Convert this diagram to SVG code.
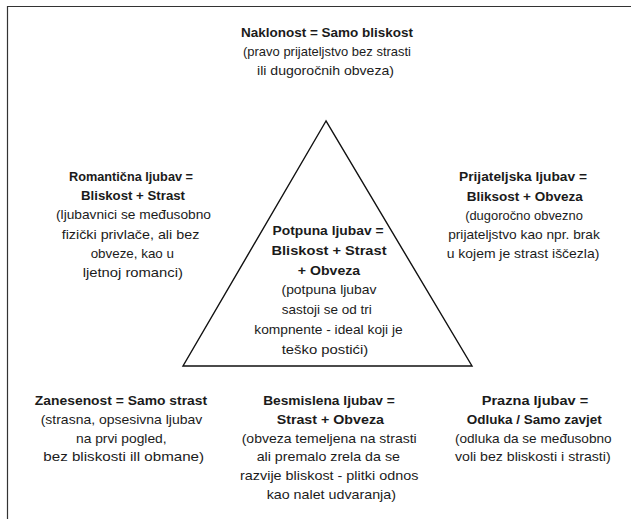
<svg xmlns="http://www.w3.org/2000/svg" width="631" height="519" viewBox="0 0 631 519">
  <style>
    text { font-family: "Liberation Sans", Arial, sans-serif; font-size: 13.5px; fill: #1b1b1b; text-anchor: middle; }
    .b { font-weight: bold; }
    .frame { stroke: #333; stroke-width: 1.2; fill: none; }
    .tri { stroke: #111; stroke-width: 1.4; fill: none; stroke-linejoin: miter; }
  </style>
  <rect width="631" height="519" fill="#ffffff"/>

  <!-- page frame: top rule and left rule -->
  <path class="frame" d="M7.5 519 V6.5 H631"/>

  <!-- love triangle -->
  <polygon id="triangle" class="tri" points="326,121 183,366 472,366"/>

  <g id="naklonost">
    <text class="b" x="327" y="37" textLength="172" lengthAdjust="spacingAndGlyphs">Naklonost = Samo bliskost</text>
    <text x="327" y="56" textLength="168" lengthAdjust="spacingAndGlyphs">(pravo prijateljstvo bez strasti</text>
    <text x="325.5" y="75" textLength="137" lengthAdjust="spacingAndGlyphs">ili dugoročnih obveza)</text>
  </g>

  <g id="romanticna">
    <text class="b" x="131" y="181" textLength="124" lengthAdjust="spacingAndGlyphs">Romantična ljubav =</text>
    <text class="b" x="133" y="200" textLength="104" lengthAdjust="spacingAndGlyphs">Bliskost + Strast</text>
    <text x="133.5" y="219.3" textLength="155" lengthAdjust="spacingAndGlyphs">(ljubavnici se međusobno</text>
    <text x="130.5" y="238.6" textLength="137.6" lengthAdjust="spacingAndGlyphs">fizički privlače, ali bez</text>
    <text x="132.3" y="257.8" textLength="83.3" lengthAdjust="spacingAndGlyphs">obveze, kao u</text>
    <text x="132.8" y="277" textLength="100.3" lengthAdjust="spacingAndGlyphs">ljetnoj romanci)</text>
  </g>

  <g id="prijateljska">
    <text class="b" x="523" y="181" textLength="128" lengthAdjust="spacingAndGlyphs">Prijateljska ljubav =</text>
    <text class="b" x="524.7" y="200.5" textLength="116" lengthAdjust="spacingAndGlyphs">Bliksost + Obveza</text>
    <text x="524" y="219.5" textLength="117.7" lengthAdjust="spacingAndGlyphs">(dugoročno obvezno</text>
    <text x="524" y="239" textLength="151.7" lengthAdjust="spacingAndGlyphs">prijateljstvo kao npr. brak</text>
    <text x="523" y="258" textLength="152.6" lengthAdjust="spacingAndGlyphs">u kojem je strast iščezla)</text>
  </g>

  <g id="potpuna">
    <text class="b" x="328" y="235" textLength="111" lengthAdjust="spacingAndGlyphs">Potpuna ljubav =</text>
    <text class="b" x="329" y="254.8" textLength="115" lengthAdjust="spacingAndGlyphs">Bliskost + Strast</text>
    <text class="b" x="329" y="274.6" textLength="62.3" lengthAdjust="spacingAndGlyphs">+ Obveza</text>
    <text x="329" y="294.4" textLength="95" lengthAdjust="spacingAndGlyphs">(potpuna ljubav</text>
    <text x="326.7" y="314.2" textLength="90" lengthAdjust="spacingAndGlyphs">sastoji se od tri</text>
    <text x="328.5" y="334" textLength="148.4" lengthAdjust="spacingAndGlyphs">kompnente - ideal koji je</text>
    <text x="325" y="353.8" textLength="86.6" lengthAdjust="spacingAndGlyphs">teško postići)</text>
  </g>

  <g id="zanesenost">
    <text class="b" x="121" y="405" textLength="172.3" lengthAdjust="spacingAndGlyphs">Zanesenost = Samo strast</text>
    <text x="121.5" y="423.8" textLength="161.6" lengthAdjust="spacingAndGlyphs">(strasna, opsesivna ljubav</text>
    <text x="121.3" y="442.6" textLength="90.7" lengthAdjust="spacingAndGlyphs">na prvi pogled,</text>
    <text x="123.7" y="461.4" textLength="160.7" lengthAdjust="spacingAndGlyphs">bez bliskosti ill obmane)</text>
  </g>

  <g id="besmislena">
    <text class="b" x="329" y="405" textLength="131.7" lengthAdjust="spacingAndGlyphs">Besmislena ljubav =</text>
    <text class="b" x="330.3" y="423.8" textLength="107.3" lengthAdjust="spacingAndGlyphs">Strast + Obveza</text>
    <text x="329.2" y="442.6" textLength="175" lengthAdjust="spacingAndGlyphs">(obveza temeljena na strasti</text>
    <text x="328.3" y="461.4" textLength="143.3" lengthAdjust="spacingAndGlyphs">ali premalo zrela da se</text>
    <text x="329.2" y="480.2" textLength="178.3" lengthAdjust="spacingAndGlyphs">razvije bliskost - plitki odnos</text>
    <text x="331.3" y="499" textLength="129.3" lengthAdjust="spacingAndGlyphs">kao nalet udvaranja)</text>
  </g>

  <g id="prazna">
    <text class="b" x="535" y="405" textLength="106.6" lengthAdjust="spacingAndGlyphs">Prazna ljubav =</text>
    <text class="b" x="534.2" y="423.8" textLength="135" lengthAdjust="spacingAndGlyphs">Odluka / Samo zavjet</text>
    <text x="533.3" y="442.6" textLength="156.7" lengthAdjust="spacingAndGlyphs">(odluka da se međusobno</text>
    <text x="532.8" y="461.4" textLength="155.7" lengthAdjust="spacingAndGlyphs">voli bez bliskosti i strasti)</text>
  </g>

  <!-- no connectors in this figure -->
  <g id="connectors"/>
</svg>
